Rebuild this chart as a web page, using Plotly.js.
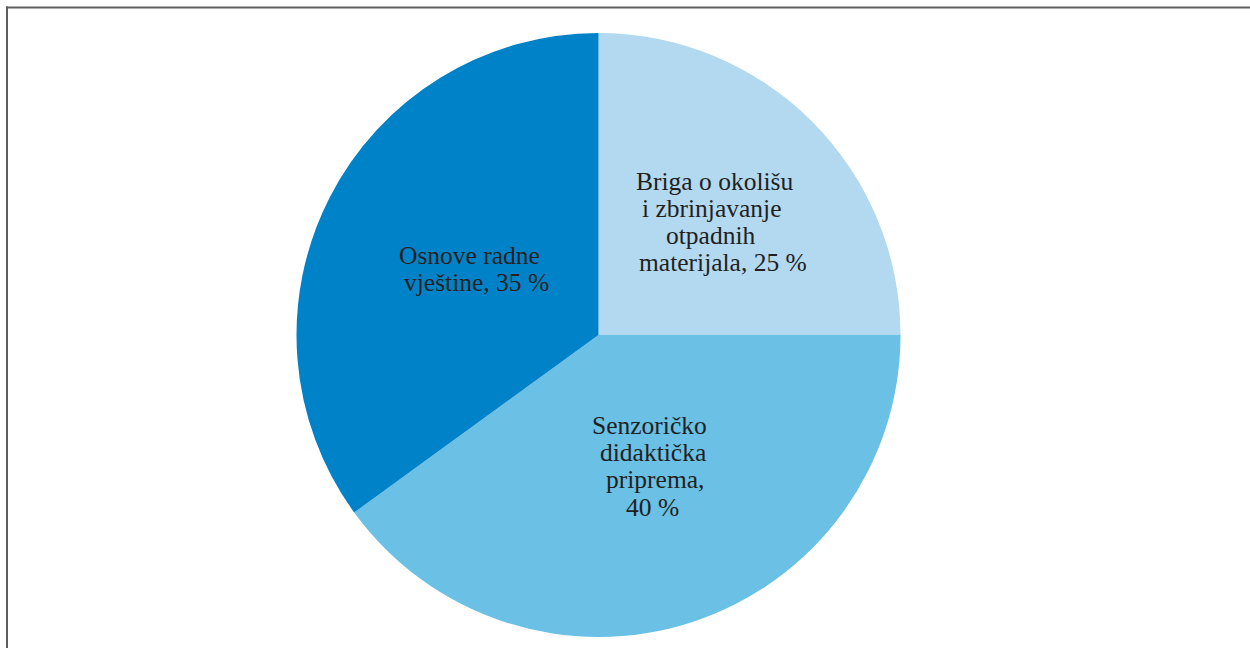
<!DOCTYPE html>
<html>
<head>
<meta charset="utf-8">
<script src="https://cdn.plot.ly/plotly-3.0.1.min.js"></script>
<style>html,body{margin:0;padding:0;background:#fff;}#chart{width:1250px;height:648px;}</style>
</head>
<body>
<div id="chart"></div>
<script>
const categories = ["Briga o okolišu i zbrinjavanje otpadnih materijala", "Senzoričko didaktička priprema", "Osnove radne vještine"];
const values = [25, 40, 35];
const labelLines = [
  ["Briga o okolišu", "i zbrinjavanje", "otpadnih", "materijala, 25 %"],
  ["Senzoričko", "didaktička", "priprema,", "40 %"],
  ["Osnove radne", "vještine, 35 %"]
];
const colors = ["#b2d9f0", "#6ac0e5", "#0082c9"];

const W = 1250, H = 648, FS = 25.5;
// pixel centre x and baseline y of every label line
const lineX = [[714.5, 711.5, 710.5, 723], [649.5, 652.5, 655, 652.5], [469, 476.5]];
const lineBase = [[190, 217, 244, 271], [434, 461, 488, 516], [264, 291]];

const trace = {
  type: "pie",
  labels: categories,
  values: values,
  sort: false,
  direction: "clockwise",
  rotation: 0,
  marker: {colors: colors, line: {width: 0}},
  textinfo: "none",
  hoverinfo: "label+percent",
  showlegend: false,
  domain: {x: [296/W, 901/W], y: [(H-637)/H, (H-33)/H]}
};

const annotations = [];
labelLines.forEach((lines, i) => {
  lines.forEach((t, j) => {
    annotations.push({
      text: t,
      xref: "paper", yref: "paper",
      x: lineX[i][j]/W, y: 1 - (lineBase[i][j] - 0.3375*FS)/H,
      xanchor: "center", yanchor: "middle",
      showarrow: false,
      font: {family: "Liberation Serif", size: FS, color: "#231f20"}
    });
  });
});

const layout = {
  width: W, height: H,
  margin: {l: 0, r: 0, t: 0, b: 0},
  paper_bgcolor: "#ffffff",
  annotations: annotations,
  shapes: [
    {type: "line", xref: "paper", yref: "paper", x0: 6/W, x1: 1, y0: 1 - 7.5/H, y1: 1 - 7.5/H, line: {color: "#5f5f5f", width: 2}},
    {type: "line", xref: "paper", yref: "paper", x0: 7/W, x1: 7/W, y0: 1 - 6.5/H, y1: 0, line: {color: "#5f5f5f", width: 2}}
  ]
};

Plotly.newPlot("chart", [trace], layout, {displayModeBar: false, staticPlot: true});
</script>
</body>
</html>
